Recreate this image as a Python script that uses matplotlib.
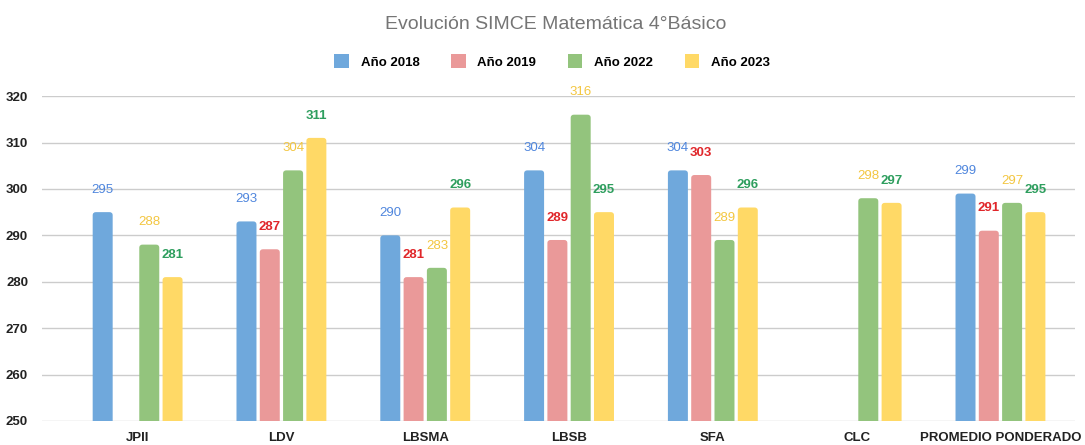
import numpy as np
import matplotlib
matplotlib.use("Agg")
import matplotlib.pyplot as plt
from matplotlib.patches import Patch, FancyBboxPatch

plt.rcParams["font.family"] = ["Liberation Sans", "DejaVu Sans"]

# ------------------------------------------
# Data
# ------------------------------------------

colegios = ["JPII", "LDV", "LBSMA", "LBSB", "SFA", "CLC", "PROMEDIO PONDERADO"]

anio_2018 = [295, 293, 290, 304, 304, np.nan, 299]
anio_2019 = [np.nan, 287, 281, 289, 303, np.nan, 291]
anio_2022 = [288, 304, 283, 316, 289, 298, 297]
anio_2023 = [281, 311, 296, 295, 296, 297, 295]

series_names = ["Año 2018", "Año 2019", "Año 2022", "Año 2023"]

# ------------------------------------------
# Styles
# ------------------------------------------

bar_colors = ["#6fa8dc", "#ea9999", "#93c47d", "#ffd966"]
label_colors = ["#4f86dd", "#e0262a", "#f3c640", "#2e9e5e"]
label_weights = ["normal", "bold", "normal", "bold"]

fig = plt.figure(figsize=(10.85, 4.45), dpi=100)
ax = fig.add_axes([0.0387, 0.054, 0.9523, 0.730])

x = np.arange(len(colegios))
bar_w = 0.139
step = 0.162
offsets = [-1.5 * step, -0.5 * step, 0.5 * step, 1.5 * step]

all_series = [anio_2018, anio_2019, anio_2022, anio_2023]

ax.set_ylim(250, 320)
ax.set_xlim(-0.665, 6.52)

# rounded tops: radius in x units, aspect to keep it circular on screen
rad = 0.022
aspect = (1 / 4.64) / (1 / 143.7)

for vals, off, col, lcol, lw, name in zip(all_series, offsets, bar_colors,
                                          label_colors, label_weights, series_names):
    vals = np.array(vals, dtype=float)
    bars = ax.bar(x + off, vals - 248, bottom=248, width=bar_w, color=col,
                  label=name, zorder=3)
    for b in bars:
        if np.isnan(b.get_height()):
            continue
        b.set_visible(False)
        p = FancyBboxPatch((b.get_x(), b.get_y()), b.get_width(), b.get_height(),
                           boxstyle=f"round,pad=0,rounding_size={rad}",
                           mutation_aspect=aspect, facecolor=col,
                           edgecolor="none", zorder=3)
        ax.add_patch(p)
    for xi, v in zip(x + off, vals):
        if np.isnan(v):
            continue
        ax.annotate(f"{int(v)}", (xi, v), xytext=(0, 16),
                    textcoords="offset points", ha="center", va="center",
                    fontsize=9.5, color=lcol, fontweight=lw, zorder=5,
                    annotation_clip=False)

ax.set_yticks(range(250, 321, 10))
ax.set_xticks(x)
ax.set_xticklabels(colegios, fontsize=9.5, fontweight="bold", color="#222222")
ax.tick_params(axis="y", labelsize=9.5, colors="#222222", length=0, pad=10)
ax.tick_params(axis="x", length=0, pad=8)
for lbl in ax.get_yticklabels():
    lbl.set_fontweight("bold")

ax.grid(axis="y", color="#cccccc", linewidth=1, zorder=0)
for s in ax.spines.values():
    s.set_visible(False)

fig.suptitle("Evolución SIMCE Matemática 4°Básico", x=0.512, y=0.965,
             fontsize=14, color="#757575")

handles = [Patch(facecolor=c) for c in bar_colors]
fig.legend(handles, series_names, loc="center", bbox_to_anchor=(0.509, 0.862),
           ncol=4, frameon=False, prop={"size": 9.5, "weight": "bold"},
           handlelength=1.1, handleheight=1.3, columnspacing=2.4,
           handletextpad=0.9)

fig.savefig("out.png", dpi=100)
